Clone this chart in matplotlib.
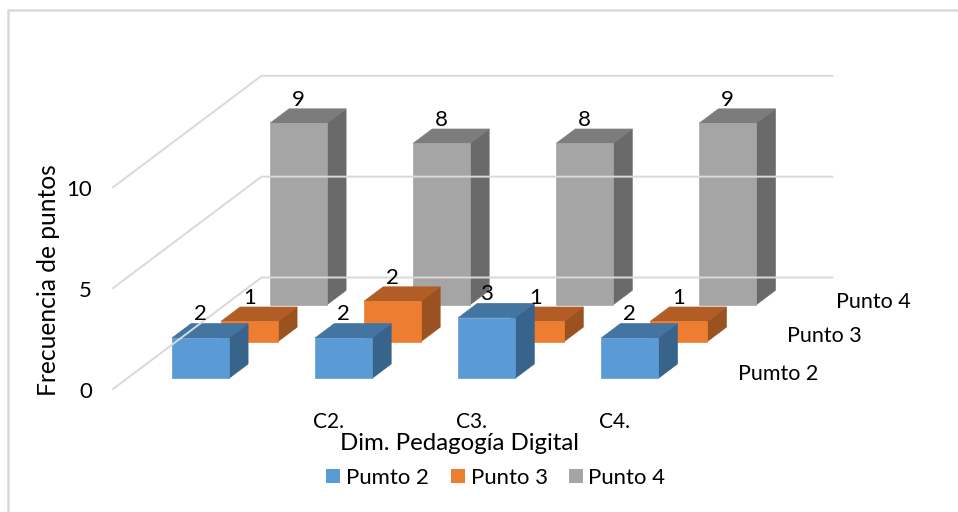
import matplotlib
matplotlib.use("Agg")
import matplotlib.pyplot as plt
from matplotlib.patches import Polygon, Rectangle

plt.rcParams['font.family'] = ['Lato', 'DejaVu Sans']

categories = ["", "C2.", "C3.", "C4."]
series_names = ["Pumto 2", "Punto 3", "Punto 4"]
pumto2 = [2, 2, 3, 2]
punto3 = [1, 2, 1, 1]
punto4 = [9, 8, 8, 9]
value_ticks = [0, 5, 10]

front_colors = ["#5B9BD5", "#ED7D31", "#A5A5A5"]
top_colors = ["#4474A0", "#B25D25", "#7C7C7C"]
side_colors = ["#38638A", "#9A5220", "#6A6A6A"]
grid_color = "#D9D9D9"

# oblique projection, everything below goes through project()
origin = (113.0, 389.0)
cat_step = 143.1
depth_vec = (49.0, -36.8)
value_step = 20.17
bar_width = 0.398
bar_depth = 0.39
bar_offset = 0.313
depth_offset = 0.29
grid_depth = 3.03
grid_cats = 3.99


def project(cat, depth, value):
    x = origin[0] + cat * cat_step + depth * depth_vec[0]
    y = origin[1] + depth * depth_vec[1] - value * value_step
    return x, y


def draw_bar(ax, cat, series, value):
    x0 = cat + bar_offset
    x1 = x0 + bar_width
    d0 = series + depth_offset
    d1 = d0 + bar_depth
    top = [project(x0, d0, value), project(x1, d0, value), project(x1, d1, value), project(x0, d1, value)]
    side = [project(x1, d0, 0), project(x1, d1, 0), project(x1, d1, value), project(x1, d0, value)]
    front = [project(x0, d0, 0), project(x1, d0, 0), project(x1, d0, value), project(x0, d0, value)]
    ax.add_patch(Polygon(side, fc=side_colors[series], ec=side_colors[series], lw=0.5))
    ax.add_patch(Polygon(top, fc=top_colors[series], ec=top_colors[series], lw=0.5))
    ax.add_patch(Polygon(front, fc=front_colors[series], ec=front_colors[series], lw=0.5))


fig = plt.figure(figsize=(9.58, 5.12), dpi=100)
ax = fig.add_axes([0, 0, 1, 1])
ax.set_xlim(0, 958)
ax.set_ylim(512, 0)
ax.axis('off')

# outer chart frame, only left and top show
ax.plot([8.5, 8.5, 958], [512, 10, 10], color=grid_color, lw=1.8)

# walls
for v in value_ticks:
    pts = [project(0, 0, v), project(0, grid_depth, v), project(grid_cats, grid_depth, v)]
    ax.plot([p[0] for p in pts], [p[1] for p in pts], color=grid_color, lw=1.4)
    ax.text(92, project(0, 0, v)[1] + 3, str(v), ha='right', va='center', fontsize=16)

all_values = [pumto2, punto3, punto4]
for s in [2, 1, 0]:
    for c, val in enumerate(all_values[s]):
        draw_bar(ax, c, s, val)

# value labels go on top of all the bars
for s in [2, 1, 0]:
    for c, val in enumerate(all_values[s]):
        x, y = project(c + bar_offset + bar_width / 2, s + depth_offset, val)
        ax.text(x, y - 23.5, str(val), ha='center', va='center', fontsize=16)

for c, name in enumerate(categories):
    ax.text(185 + c * cat_step, 422.5, name, ha='center', va='center', fontsize=15)

for name, x, y in zip(series_names, [738, 787, 836], [373.5, 336.5, 301.5]):
    ax.text(x, y, name, ha='left', va='center', fontsize=15.5)

ax.text(48.5, 280, "Frecuencia de puntos", rotation=90, ha='center', va='center', fontsize=17.7)
ax.text(460, 444, "Dim. Pedagogía Digital", ha='center', va='center', fontsize=17.3)

# legend placed by hand under the axis title
for name, color, sx, tx in zip(series_names, front_colors, [326, 451, 569], [346, 471, 588]):
    ax.add_patch(Rectangle((sx, 469), 14, 14, fc=color, ec='none'))
    ax.text(tx, 478, name, ha='left', va='center', fontsize=15.9)

fig.savefig("out.png", dpi=100)
